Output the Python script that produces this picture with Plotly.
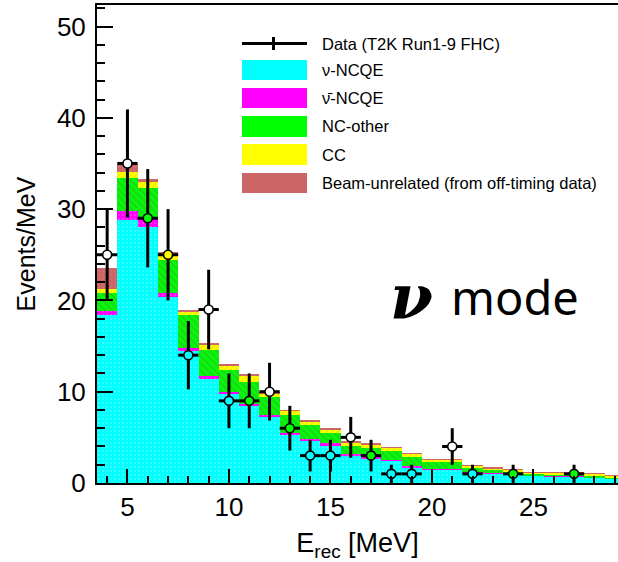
import numpy as np
import plotly.graph_objects as go

# ---------------- data ----------------
energy = list(range(4, 30))  # bin centres [MeV], width 1 MeV
nu_ncqe = [18.4, 28.8, 28.0, 20.4, 14.5, 11.4, 9.8, 8.4, 7.2, 5.3, 4.6, 4.15, 3.0,
           2.7, 2.45, 1.75, 1.5, 1.5, 1.15, 1.05, 0.95, 0.8, 0.75, 0.7, 0.6, 0.45]
nubar_ncqe = [0.4, 0.95, 0.9, 0.4, 0.3, 0.3, 0.2, 0.25, 0.25, 0.2, 0.2, 0.2, 0.2,
              0.1, 0.1, 0.1, 0.05, 0.05, 0.05, 0.05, 0.05, 0.03, 0.03, 0.02, 0.02, 0.02]
nc_other = [2.0, 3.65, 3.4, 3.6, 3.6, 2.9, 2.4, 2.45, 1.95, 1.95, 1.55, 1.15, 0.8,
            1.05, 1.0, 1.0, 0.8, 0.75, 0.47, 0.36, 0.28, 0.17, 0.2, 0.3, 0.18, 0.15]
cc = [0.4, 0.7, 0.7, 0.7, 0.4, 0.6, 0.5, 0.7, 0.45, 0.45, 0.4, 0.4, 0.45,
      0.4, 0.35, 0.35, 0.25, 0.25, 0.23, 0.18, 0.18, 0.17, 0.17, 0.13, 0.2, 0.18]
beam_unrelated = [2.3, 0.85, 0.3, 0.2, 0.1, 0.1, 0.1, 0.05, 0.05, 0.05, 0.05, 0.05, 0.05,
                  0.05, 0.02, 0.02, 0.02, 0.02, 0.02, 0.02, 0.02, 0.02, 0.02, 0.02, 0.02, 0.02]
data_counts = [25, 35, 29, 25, 14, 19, 9, 9, 10, 6, 3, 3, 5, 3, 1, 1, 0, 4, 1, 0, 1, 0, 0, 1, 0, 0]

series_names = ["ν-NCQE", "ν̄-NCQE", "NC-other", "CC", "Beam-unrelated (from off-timing data)"]
series_vals = [nu_ncqe, nubar_ncqe, nc_other, cc, beam_unrelated]
colors = ["#00FFFF", "#FF00FF", "#00FF00", "#FFFF00", "#CC6666"]
patterns = [
    dict(shape=".", fgcolor="#B8FFFF", bgcolor="#00FFFF", size=4, solidity=0.15),
    dict(shape=".", fgcolor="#FFB0FF", bgcolor="#FF00FF", size=4, solidity=0.15),
    dict(shape="\\", fgcolor="#3AAE3A", bgcolor="#00FF00", size=5, solidity=0.5),
    dict(shape="/", fgcolor="#D6D600", bgcolor="#FFFF00", size=4, solidity=0.35),
    dict(shape=".", fgcolor="#D88888", bgcolor="#CC6666", size=4, solidity=0.15),
]

fig = go.Figure()
for name, vals, col, pat in zip(series_names, series_vals, colors, patterns):
    fig.add_trace(go.Bar(
        x=energy, y=vals, name=name, width=1.0,
        marker=dict(color=col, line=dict(width=0), pattern=pat),
        showlegend=False, hoverinfo="skip",
    ))

# data points (only non-empty bins)
dx = [e for e, n in zip(energy, data_counts) if n > 0]
dy = [n for n in data_counts if n > 0]
derr = [float(np.sqrt(n)) for n in dy]

# marker fill = colour of the stack layer that lies behind the point
cum = np.cumsum(np.array(series_vals), axis=0)
fills = []
for e, n in zip(dx, dy):
    i = energy.index(e)
    fc = "white"
    for k in range(len(series_vals)):
        if n < cum[k, i]:
            fc = colors[k]
            break
    fills.append(fc)

fig.add_trace(go.Scatter(
    x=dx, y=dy, mode="markers",
    marker=dict(size=1, color="black"),
    error_x=dict(type="constant", value=0.5, color="black", thickness=3, width=0),
    error_y=dict(type="data", array=derr, color="black", thickness=3, width=0),
    showlegend=False, hoverinfo="skip",
))
fig.add_trace(go.Scatter(
    x=dx, y=dy, mode="markers",
    marker=dict(size=9, color=fills, line=dict(color="black", width=1.6)),
    showlegend=False, hoverinfo="skip",
))

# ---------------- layout ----------------
W, H = 618, 562
ML, MR, MT, MB = 97, 0, 5, 79
PW, PH = W - ML - MR, H - MT - MB


def px(x):
    return (x - ML) / PW


def py(y):
    return (H - MB - y) / PH


font_main = "Liberation Sans, Arial, Helvetica, sans-serif"

fig.update_layout(
    width=W, height=H,
    margin=dict(l=ML, r=MR, t=MT, b=MB),
    paper_bgcolor="white", plot_bgcolor="white",
    barmode="stack", bargap=0,
    font=dict(family=font_main, color="black"),
    xaxis=dict(
        range=[3.5, 3.5 + PW / 20.3],
        showgrid=False, zeroline=False,
        showline=True, linecolor="black", linewidth=2, mirror=True,
        ticks="inside", ticklen=14, tickwidth=1.5, tickcolor="black",
        tick0=5, dtick=5,
        minor=dict(ticks="inside", ticklen=7, tickwidth=1.5, tickcolor="black", dtick=1, tick0=0),
        tickfont=dict(size=26, family=font_main),
        title=dict(text="E<sub>rec</sub> [MeV]", font=dict(size=27, family=font_main), standoff=14),
    ),
    yaxis=dict(
        range=[0, PH / 9.13],
        showgrid=False, zeroline=False,
        showline=True, linecolor="black", linewidth=2,
        ticks="inside", ticklen=16, tickwidth=1.5, tickcolor="black",
        tick0=0, dtick=10,
        minor=dict(ticks="inside", ticklen=8, tickwidth=1.5, tickcolor="black", dtick=2),
        tickfont=dict(size=26, family=font_main),
        ticklabelstandoff=4,
        title=dict(text="Events/MeV", font=dict(size=25, family=font_main), standoff=14),
    ),
)

# ---------------- manual legend ----------------
shapes = []
annotations = []
bx0, bx1 = 242, 307
# data entry
shapes.append(dict(type="line", xref="paper", yref="paper", x0=px(bx0), x1=px(bx1),
                   y0=py(43.5), y1=py(43.5), line=dict(color="black", width=3)))
shapes.append(dict(type="line", xref="paper", yref="paper", x0=px(273.5), x1=px(273.5),
                   y0=py(37), y1=py(50), line=dict(color="black", width=3)))
annotations.append(dict(xref="paper", yref="paper", x=px(320), y=py(43.5), xanchor="left",
                        yanchor="middle", text="Data (T2K Run1-9 FHC)", showarrow=False,
                        font=dict(size=16.5, family=font_main)))
rows = [(60, 80), (88, 108), (116, 137), (144, 165), (173, 193)]
for (y0, y1), name, col in zip(rows, series_names, colors):
    shapes.append(dict(type="rect", xref="paper", yref="paper", x0=px(bx0), x1=px(bx1),
                       y0=py(y1), y1=py(y0), fillcolor=col, line=dict(width=0)))
    annotations.append(dict(xref="paper", yref="paper", x=px(320), y=py((y0 + y1) / 2),
                            xanchor="left", yanchor="middle", text=name, showarrow=False,
                            font=dict(size=16.5, family=font_main)))

# "ν mode" label
annotations.append(dict(xref="paper", yref="paper", x=px(388), y=py(297), xanchor="left",
                        yanchor="middle", text="<b><i>ν</i></b>", showarrow=False,
                        font=dict(size=62, family="DejaVu Serif, serif")))
annotations.append(dict(xref="paper", yref="paper", x=px(449), y=py(297), xanchor="left",
                        yanchor="middle", text="mode", showarrow=False,
                        font=dict(size=47, family="Noto Sans, sans-serif")))

fig.update_layout(shapes=shapes, annotations=annotations)

fig.write_html("out.html", config={"displayModeBar": False},
               post_script="document.body.style.margin='0';")
